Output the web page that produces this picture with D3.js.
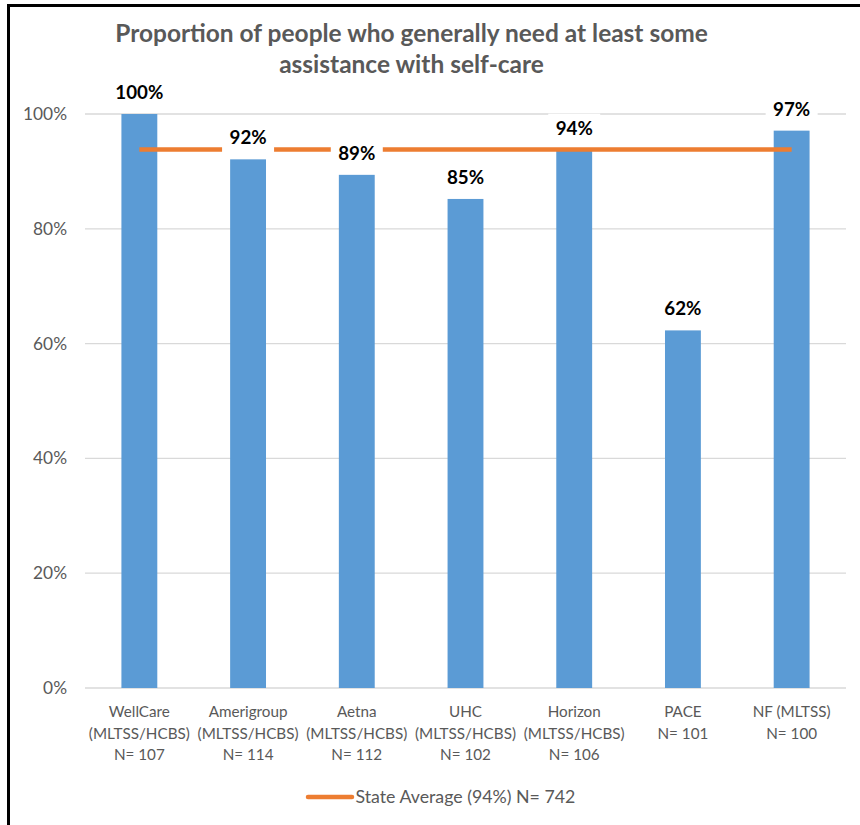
<!DOCTYPE html>
<html>
<head>
<meta charset="utf-8">
<script src="https://cdn.jsdelivr.net/npm/d3@7"></script>
<style>
  html, body { margin: 0; padding: 0; background: #ffffff; }
  svg { display: block; }
</style>
</head>
<body>
<svg id="chart" width="860" height="825"></svg>
<script>
// ---- Data ----
const categories = [
  ["WellCare", "(MLTSS/HCBS)", "N= 107"],
  ["Amerigroup", "(MLTSS/HCBS)", "N= 114"],
  ["Aetna", "(MLTSS/HCBS)", "N= 112"],
  ["UHC", "(MLTSS/HCBS)", "N= 102"],
  ["Horizon", "(MLTSS/HCBS)", "N= 106"],
  ["PACE", "N= 101"],
  ["NF (MLTSS)", "N= 100"]
];
const values = [1.00, 0.921, 0.894, 0.852, 0.937, 0.623, 0.971];
const stateAverage = 0.938;
const yTicks = [0, 0.2, 0.4, 0.6, 0.8, 1.0];
const titleLines = ["Proportion of people who generally need at least some", "assistance with self-care"];
const legendLabel = "State Average (94%) N= 742";

// ---- Styles ----
const FONT = "Lato, 'Open Sans', sans-serif";
const GREY = "#595959";
const BAR = "#5b9bd5";
const ORANGE = "#ed7d31";
const GRID = "#d9d9d9";

const svg = d3.select("#chart");
const keys = categories.map((c, i) => "c" + i);

// helper: find font size so a string reaches a target width
function fitSize(str, weight, target) {
  const t = svg.append("text").attr("font-family", FONT).attr("font-weight", weight)
    .attr("font-size", 100).text(str);
  const w = t.node().getComputedTextLength();
  t.remove();
  return 100 * target / w;
}

const x = d3.scaleBand().domain(keys).range([85, 846]).paddingInner(0.67).paddingOuter(0.335);
const xc = d3.scaleBand().domain(keys).range([85, 846]).padding(0);
const y = d3.scaleLinear().domain([0, 1]).range([688, 114]);

// gridlines
svg.append("g").selectAll("line").data(yTicks).join("line")
  .attr("x1", 85).attr("x2", 846)
  .attr("y1", d => y(d)).attr("y2", d => y(d))
  .attr("stroke", GRID).attr("stroke-width", 1.3);

// y axis labels
const tickSize = fitSize("100%", 400, 44);
const yAxis = d3.axisLeft(y).tickValues(yTicks).tickFormat(d3.format(".0%")).tickSize(0).tickPadding(0);
const ya = svg.append("g").attr("transform", "translate(67,0)").call(yAxis);
ya.select(".domain").remove();
ya.selectAll("text").attr("font-family", FONT).attr("font-size", tickSize).attr("fill", GREY);

// bars
svg.append("g").selectAll("rect").data(values).join("rect")
  .attr("x", (d, i) => x(keys[i])).attr("width", x.bandwidth())
  .attr("y", d => y(d)).attr("height", d => y(0) - y(d))
  .attr("fill", BAR);

// state average line
svg.append("line")
  .attr("x1", xc(keys[0]) + xc.bandwidth() / 2)
  .attr("x2", xc(keys[keys.length - 1]) + xc.bandwidth() / 2)
  .attr("y1", y(stateAverage)).attr("y2", y(stateAverage))
  .attr("stroke", ORANGE).attr("stroke-width", 4.5);

// data labels with white box
const labelSize = fitSize("100%", 700, 48);
const lg = svg.append("g");
values.forEach((v, i) => {
  const cx = xc(keys[i]) + xc.bandwidth() / 2;
  const cy = y(v) - 21.5;
  lg.append("rect").attr("x", cx - 26).attr("y", cy - 15).attr("width", 52).attr("height", 30).attr("fill", "#fff");
  lg.append("text").attr("x", cx).attr("y", cy).attr("dy", "0.35em")
    .attr("text-anchor", "middle").attr("font-family", FONT).attr("font-weight", 700)
    .attr("font-size", labelSize).attr("fill", "#000").text(d3.format(".0%")(v));
});

// category labels
const catSize = fitSize("(MLTSS/HCBS)", 400, 101);
const cg = svg.append("g");
categories.forEach((lines, i) => {
  const cx = xc(keys[i]) + xc.bandwidth() / 2;
  lines.forEach((ln, j) => {
    cg.append("text").attr("x", cx).attr("y", 711.7 + j * 21.7).attr("dy", "0.35em")
      .attr("text-anchor", "middle").attr("font-family", FONT).attr("font-size", catSize)
      .attr("fill", GREY).text(ln);
  });
});

// title
const titleSize = fitSize(titleLines[0], 700, 593);
titleLines.forEach((ln, j) => {
  svg.append("text").attr("x", 411.5).attr("y", 41.7 + j * 31)
    .attr("text-anchor", "middle").attr("font-family", FONT).attr("font-weight", 700)
    .attr("font-size", titleSize).attr("fill", GREY).text(ln);
});

// legend
svg.append("line").attr("x1", 308).attr("x2", 352).attr("y1", 797).attr("y2", 797)
  .attr("stroke", ORANGE).attr("stroke-width", 4.5).attr("stroke-linecap", "round");
const legSize = fitSize(legendLabel, 400, 220);
svg.append("text").attr("x", 355.5).attr("y", 797).attr("dy", "0.35em")
  .attr("font-family", FONT).attr("font-size", legSize).attr("fill", GREY).text(legendLabel);

// outer border (top and left only visible)
svg.append("path").attr("d", "M8.5,825 V5.5 H860").attr("fill", "none")
  .attr("stroke", "#000").attr("stroke-width", 3);
</script>
</body>
</html>
